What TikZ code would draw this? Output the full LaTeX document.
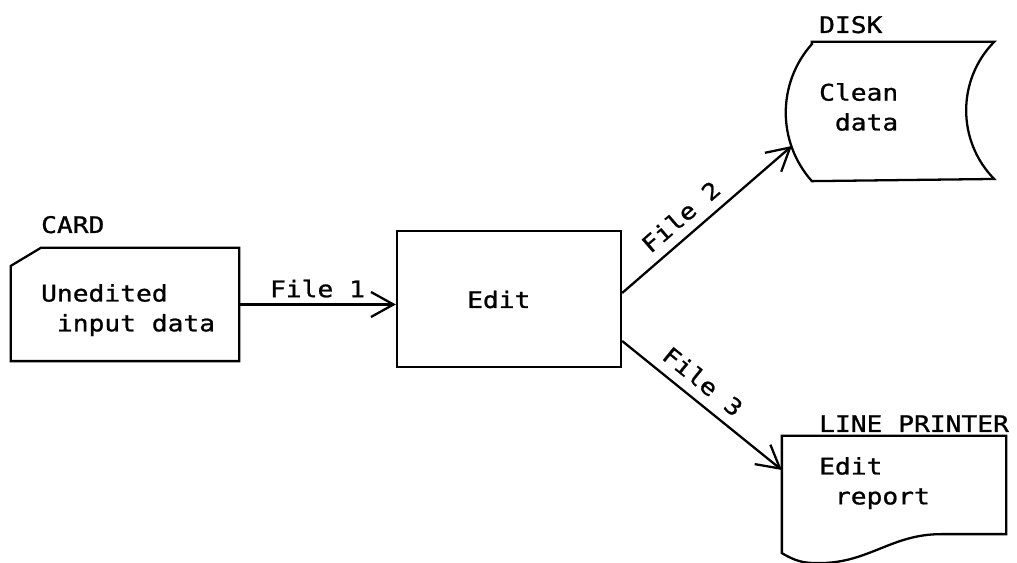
\documentclass[tikz,border=0pt]{standalone}
\usepackage{fontspec}
\setmonofont[FakeStretch=1.15, FakeBold=1]{DejaVu Sans Mono}
\usetikzlibrary{arrows.meta}

\begin{document}
\begin{tikzpicture}[line width=1.3pt, font=\ttfamily\fontsize{13}{17}\selectfont,
	outline/.style={shape=rectangle, draw=none, inner sep=0pt},
	txt/.style={anchor=north west, align=left, inner sep=0pt},
	lbl/.style={anchor=base west, inner sep=0pt},
	flow/.style={-{Straight Barb[length=0.45cm, width=0.5cm]}}]
	\useasboundingbox (0,0) rectangle (20.34,11.26);
	% Shapes:
	\node[outline, minimum width=4.52cm, minimum height=2.22cm] (card) at (2.5, 5.17){};
	\draw ([xshift=0.6cm]card.north west) -- (card.north east) -- (card.south east) -- (card.south west) -- ([yshift=-0.36cm]card.north west) -- cycle;
	\node[shape=rectangle, draw, minimum width=4.48cm, minimum height=2.72cm] (edit) at (10.18, 5.28){};
	\node[outline, minimum width=3.6cm, minimum height=2.74cm] (disk) at (18.06, 9.03){};
	\draw (disk.north west) -- (disk.north east) arc[start angle=135.6, end angle=224.4, radius=1.96cm] -- (disk.south west) arc[start angle=221.7, end angle=138.3, radius=2.06cm] -- cycle;
	\node[outline, minimum width=4.44cm, minimum height=1.92cm] (printer) at (17.88, 1.56){};
	\draw (printer.north west) -- (printer.north east) -- (printer.south east) -- ([xshift=-1.3cm]printer.south east) .. controls ([xshift=-2.3cm]printer.south east) and ([shift={(1.74,-0.58)}]printer.south west) .. ([shift={(0.74,-0.58)}]printer.south west) .. controls ([shift={(0.44,-0.58)}]printer.south west) and ([shift={(0.29,-0.55)}]printer.south west) .. ([yshift=-0.38cm]printer.south west) -- cycle;
	% Texts:
	\node[lbl] (cardlbl) at (0.8, 6.6){CARD};
	\node[txt] (cardtxt) at (0.8, 5.6){Unedited\\\hphantom{x}input data};
	\node[lbl] (edittxt) at (9.32, 5.1){Edit};
	\node[lbl] (disklbl) at (16.36, 10.6){DISK};
	\node[txt] (disktxt) at (16.36, 9.62){Clean\\\hphantom{x}data};
	\node[lbl] (printerlbl) at (16.36, 2.62){LINE PRINTER};
	\node[txt] (printertxt) at (16.36, 2.14){Edit\\\hphantom{x}report};
	% Files:
	\draw[flow] (card.east) -- (card.east -| edit.west) node[midway, above] (file1){File 1};
	\draw[flow] ([yshift=0.12cm]edit.east) -- ([shift={(-0.4cm,-0.69cm)}]disk.west) node[pos=.42, sloped, above=2pt] (file2){File 2};
	\draw[flow] ([yshift=-0.84cm]edit.east) -- ([yshift=0.3cm]printer.west) node[pos=.43, sloped, above=2pt] (file3){File 3};
\end{tikzpicture}
\end{document}
